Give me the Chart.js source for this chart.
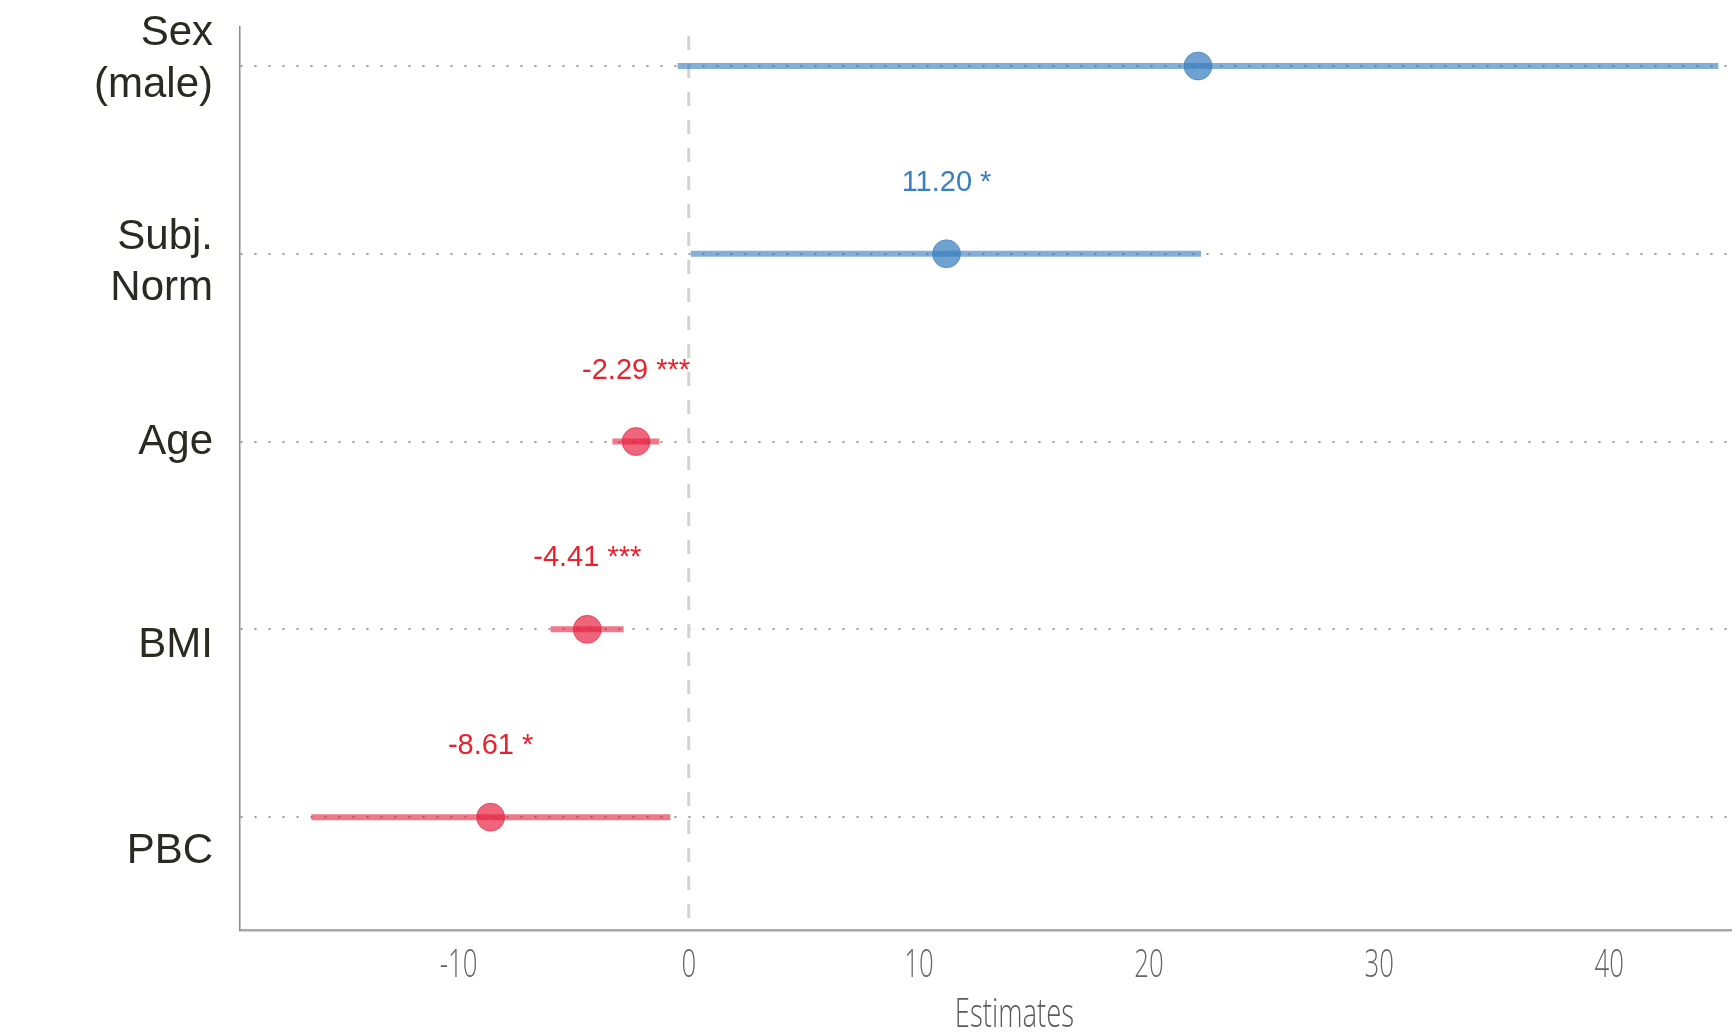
<!DOCTYPE html>
<html>
<head>
<meta charset="utf-8">
<script src="https://cdn.jsdelivr.net/npm/chart.js@4/dist/chart.umd.min.js"></script>
<style>
  html, body { margin: 0; padding: 0; background: #fff; overflow: hidden; }
  #wrap { width: 1732px; height: 1035px; overflow: hidden; position: relative; }
  #box { position: absolute; left: 0; top: 0; width: 1790px; height: 1035px; }
</style>
</head>
<body>
<div id="wrap"><div id="box"><canvas id="c"></canvas></div></div>
<script>
// ---- data ----
const terms      = [["Sex", "(male)"], ["Subj.", "Norm"], ["Age"], ["BMI"], ["PBC"]];
const estimates  = [22.13, 11.20, -2.29, -4.41, -8.61];
const ciLow      = [-0.48, 0.09, -3.32, -6.00, -16.40];
const ciHigh     = [44.74, 22.26, -1.28, -2.83, -0.80];
const valueLabels = ["", "11.20 *", "-2.29 ***", "-4.41 ***", "-8.61 *"];
const positive   = [true, true, false, false, false];
const xTickValues = [-10, 0, 10, 20, 30, 40];
const xTickLabels = ["-10", "0", "10", "20", "30", "40"];
const refLineValue = 0;
const xTitle = "Estimates";

// ---- styles ----
const BLUE_FILL = "rgba(55,126,190,0.72)";
const RED_FILL  = "rgba(228,30,60,0.68)";
const BLUE_BAR  = "rgba(55,126,190,0.62)";
const RED_BAR   = "rgba(228,30,60,0.60)";
const BLUE_TXT  = "#3a7fbf";
const RED_TXT   = "#e8222e";
const AXIS_FONT = "'Open Sans', 'DejaVu Sans', sans-serif";

const rowIdx = terms.map((_, i) => i);

const ciDatasets = rowIdx.map(i => ({
  type: "line",
  data: [{ x: ciLow[i], y: i }, { x: ciHigh[i], y: i }],
  borderColor: positive[i] ? BLUE_BAR : RED_BAR,
  borderWidth: 6,
  pointRadius: 0,
  borderCapStyle: "butt",
  order: 2
}));

const pointDataset = {
  type: "scatter",
  data: rowIdx.map(i => ({ x: estimates[i], y: i })),
  backgroundColor: rowIdx.map(i => positive[i] ? BLUE_FILL : RED_FILL),
  borderColor: rowIdx.map(i => positive[i] ? BLUE_BAR : RED_BAR),
  borderWidth: 1,
  pointRadius: 14,
  order: 1
};

// baselines of term labels relative to row position, pixels
const termLabelBaselines = [[-21, 31], [-5, 46], [12], [28], [46]];

function condensedText(ctx, text, x, y, sx) {
  ctx.save();
  ctx.translate(x, y);
  ctx.scale(sx, 1);
  ctx.fillText(text, 0, 0);
  ctx.restore();
}

const annotPlugin = {
  id: "annot",
  beforeDatasetsDraw(chart) {
    const { ctx, scales: { x }, chartArea } = chart;
    const px = x.getPixelForValue(refLineValue);
    ctx.save();
    ctx.strokeStyle = "#d2d2d2";
    ctx.lineWidth = 3;
    ctx.setLineDash([14, 14]);
    ctx.lineDashOffset = -9;
    ctx.beginPath();
    ctx.moveTo(px, chartArea.top);
    ctx.lineTo(px, chartArea.bottom);
    ctx.stroke();
    ctx.restore();
  },
  afterDatasetsDraw(chart) {
    const { ctx, scales: { x, y }, chartArea } = chart;
    ctx.save();
    // value labels
    ctx.font = "29px 'Liberation Sans', Arial, sans-serif";
    ctx.textAlign = "center";
    ctx.textBaseline = "middle";
    rowIdx.forEach(i => {
      if (!valueLabels[i]) return;
      ctx.fillStyle = positive[i] ? BLUE_TXT : RED_TXT;
      ctx.fillText(valueLabels[i], x.getPixelForValue(estimates[i]), y.getPixelForValue(i) - 71);
    });
    // term (y) labels
    ctx.font = "42px 'Liberation Sans', Arial, sans-serif";
    ctx.textAlign = "right";
    ctx.textBaseline = "alphabetic";
    ctx.fillStyle = "#2a2a22";
    rowIdx.forEach(i => {
      const py = y.getPixelForValue(i);
      terms[i].forEach((line, k) => {
        ctx.fillText(line, 213, py + termLabelBaselines[i][k]);
      });
    });
    // x tick labels (condensed light face)
    ctx.font = "300 39px " + AXIS_FONT;
    ctx.textAlign = "center";
    ctx.fillStyle = "#646464";
    xTickValues.forEach((v, k) => {
      condensedText(ctx, xTickLabels[k], x.getPixelForValue(v), chartArea.bottom + 47, 0.66);
    });
    // x title
    ctx.font = "300 41px " + AXIS_FONT;
    ctx.fillStyle = "#5a5a5a";
    condensedText(ctx, xTitle, (chartArea.left + chartArea.right) / 2 + 7, chartArea.bottom + 97, 0.67);
    ctx.restore();
  }
};

new Chart(document.getElementById("c"), {
  data: { datasets: [...ciDatasets, pointDataset] },
  options: {
    responsive: true,
    maintainAspectRatio: false,
    animation: false,
    layout: { padding: { top: 27, right: 0, left: 0, bottom: 0 } },
    plugins: { legend: { display: false }, tooltip: { enabled: false } },
    scales: {
      x: {
        type: "linear",
        min: -19.5,
        max: 47.2,
        afterBuildTicks: s => { s.ticks = xTickValues.map(v => ({ value: v })); },
        afterFit: s => { s.height = 105; s.paddingLeft = 0; s.paddingRight = 0; },
        grid: { display: false, drawTicks: false },
        border: { display: true, color: "#a8a8a8", width: 2.5 },
        ticks: { display: false },
        title: { display: false, text: xTitle }
      },
      y: {
        type: "linear",
        reverse: true,
        min: -0.2077,
        max: 4.601,
        afterBuildTicks: s => { s.ticks = rowIdx.map(v => ({ value: v })); },
        afterFit: s => { s.width = 240; s.paddingTop = 0; s.paddingBottom = 0; },
        ticks: { display: false },
        grid: { display: true, color: "#9a9a9a", lineWidth: 2, drawTicks: false },
        border: { display: true, color: "#8a8a8a", width: 1.5, dash: [2, 12] }
      }
    }
  },
  plugins: [annotPlugin]
});
</script>
</body>
</html>
